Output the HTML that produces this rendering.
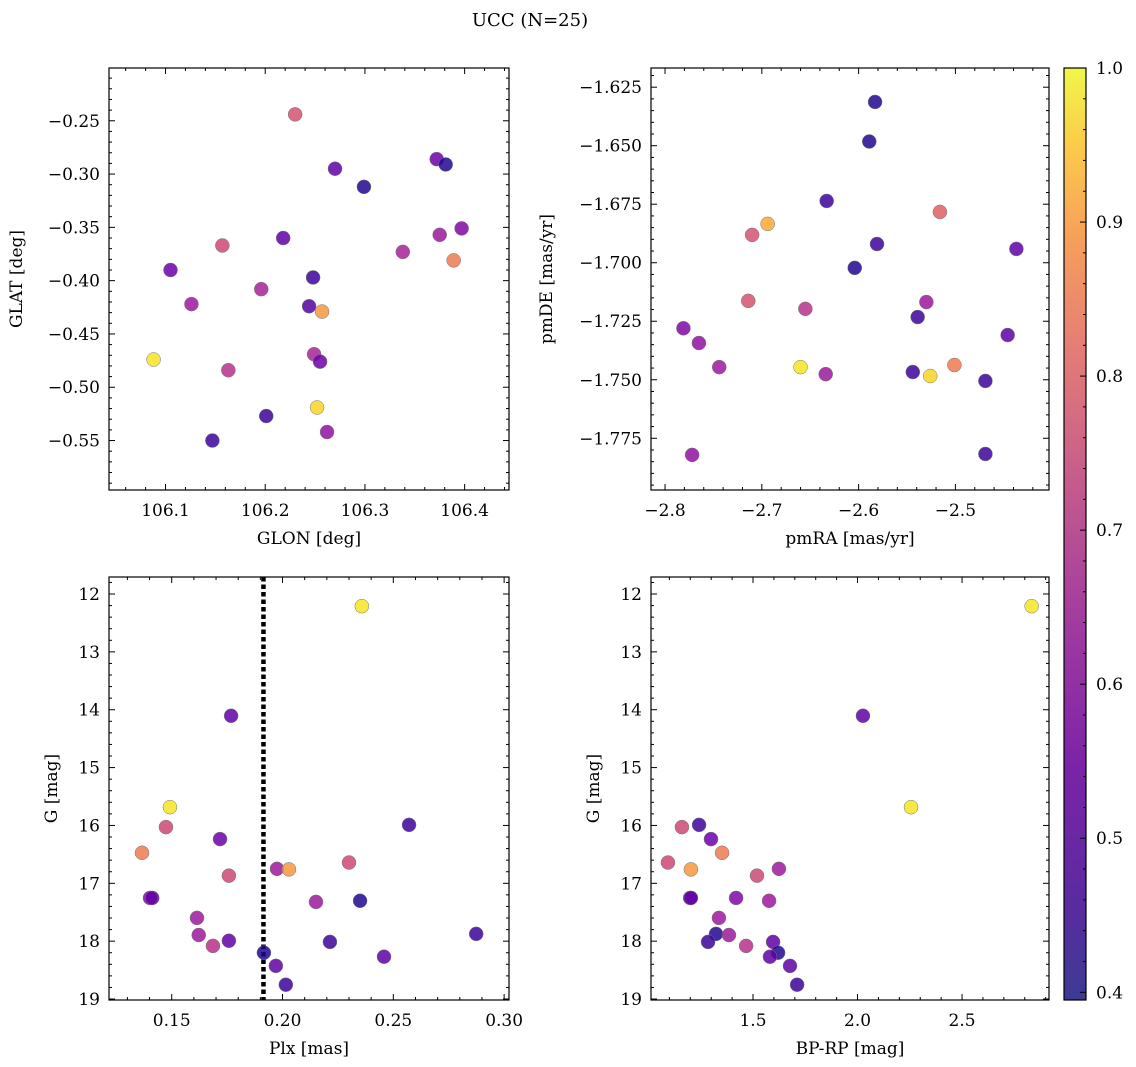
<!DOCTYPE html>
<html><head><meta charset="utf-8"><style>
html,body{margin:0;padding:0;background:#fff;}
svg{display:block;font-family:"DejaVu Serif","Liberation Serif",serif;}
</style></head><body>
<svg id="fig" width="1136" height="1067" viewBox="0 0 1136 1067" xmlns="http://www.w3.org/2000/svg">
<defs>
<linearGradient id="plasma" x1="0" y1="1" x2="0" y2="0">
<stop offset="0" stop-color="#3c3b94"/><stop offset="0.1" stop-color="#5a2ba0"/><stop offset="0.25" stop-color="#7b23a8"/><stop offset="0.4" stop-color="#a03aa0"/><stop offset="0.55" stop-color="#c45a8e"/><stop offset="0.7" stop-color="#e57d76"/><stop offset="0.82" stop-color="#f7a05a"/><stop offset="0.92" stop-color="#fbcd4a"/><stop offset="1" stop-color="#f0f749"/>
</linearGradient>
</defs>
<text x="530" y="26" font-size="18" text-anchor="middle">UCC (N=25)</text>
</svg>
<script>
// Panel 1: GLON vs GLAT
const glon = [106.230,106.372,106.381,106.270,106.299,106.375,106.397,106.157,106.218,106.338,106.389,106.105,106.248,106.196,106.126,106.244,106.257,106.088,106.249,106.255,106.163,106.252,106.201,106.262,106.147];
const glat = [-0.244,-0.286,-0.291,-0.295,-0.312,-0.357,-0.351,-0.367,-0.360,-0.373,-0.381,-0.390,-0.397,-0.408,-0.422,-0.424,-0.429,-0.474,-0.469,-0.476,-0.484,-0.519,-0.527,-0.542,-0.550];
const prob1 = [0.72,0.52,0.42,0.50,0.42,0.60,0.55,0.70,0.50,0.62,0.80,0.52,0.45,0.62,0.60,0.48,0.85,0.97,0.62,0.52,0.65,0.95,0.45,0.58,0.45];
// Panel 2: pmRA vs pmDE
const pmra = [-2.583,-2.589,-2.633,-2.581,-2.604,-2.694,-2.710,-2.516,-2.437,-2.714,-2.655,-2.530,-2.539,-2.781,-2.765,-2.744,-2.660,-2.634,-2.544,-2.526,-2.501,-2.469,-2.446,-2.469,-2.772];
const pmde = [-1.6313,-1.6482,-1.6736,-1.6920,-1.7022,-1.6834,-1.6881,-1.6783,-1.6941,-1.7163,-1.7197,-1.7168,-1.7232,-1.7280,-1.7343,-1.7446,-1.7446,-1.7476,-1.7467,-1.7484,-1.7437,-1.7505,-1.7309,-1.7817,-1.7821];
const prob2 = [0.42,0.42,0.45,0.45,0.42,0.88,0.72,0.75,0.50,0.72,0.65,0.60,0.45,0.55,0.58,0.60,0.97,0.60,0.45,0.95,0.80,0.45,0.50,0.45,0.58];
// Panel 3: Plx vs G
const plx = [0.2358,0.1768,0.1492,0.1474,0.1366,0.1718,0.2571,0.1758,0.1975,0.2029,0.2300,0.1402,0.1412,0.2151,0.2350,0.1614,0.1622,0.1686,0.1758,0.2214,0.2874,0.1916,0.2458,0.1970,0.2015];
const gmag3 = [12.21,14.105,15.684,16.029,16.473,16.236,15.990,16.868,16.750,16.760,16.641,17.253,17.253,17.322,17.302,17.598,17.894,18.082,17.993,18.013,17.874,18.200,18.269,18.427,18.753];
const prob3 = [0.97,0.50,0.97,0.70,0.80,0.52,0.45,0.70,0.60,0.85,0.70,0.55,0.50,0.60,0.42,0.60,0.60,0.65,0.50,0.45,0.45,0.42,0.50,0.50,0.45];
const plxLine = 0.1914;
// Panel 4: BP-RP vs G
const bprp = [2.833,2.026,2.256,1.160,1.242,1.299,1.352,1.093,1.203,1.624,1.519,1.199,1.203,1.419,1.577,1.337,1.323,1.385,1.285,1.596,1.467,1.620,1.581,1.677,1.711];
const gmag4 = [12.21,14.105,15.684,16.029,15.990,16.236,16.473,16.641,16.760,16.750,16.868,17.253,17.253,17.253,17.302,17.598,17.874,17.894,18.013,18.013,18.082,18.200,18.269,18.427,18.753];
const prob4 = [0.97,0.50,0.97,0.70,0.45,0.52,0.80,0.70,0.85,0.60,0.70,0.55,0.50,0.55,0.60,0.60,0.42,0.60,0.45,0.50,0.65,0.42,0.50,0.50,0.45];
// Colorbar ticks
const cbTicks = [0.4,0.5,0.6,0.7,0.8,0.9,1.0];

const NS = "http://www.w3.org/2000/svg";
const svg = document.getElementById('fig');
function mk(tag, attrs, parent){ const e=document.createElementNS(NS,tag); for(const k in attrs) e.setAttribute(k,attrs[k]); (parent||svg).appendChild(e); return e; }

const stops = [[0,[13,8,135]],[0.1,[65,4,157]],[0.2,[106,0,168]],[0.3,[143,13,164]],[0.4,[177,42,144]],[0.5,[204,71,120]],[0.6,[225,100,98]],[0.7,[242,132,75]],[0.8,[252,166,54]],[0.9,[252,206,37]],[1,[240,249,33]]];
const VMIN=0.395, VMAX=1.0;
function plasma(v){
  let t=(v-VMIN)/(VMAX-VMIN); t=Math.max(0,Math.min(1,t));
  for(let i=1;i<stops.length;i++){ if(t<=stops[i][0]){ const a=stops[i-1],b=stops[i]; const f=(t-a[0])/(b[0]-a[0]); const c=a[1].map((x,j)=>Math.round(x+(b[1][j]-x)*f)); return `rgb(${c[0]},${c[1]},${c[2]})`; } }
  return 'rgb(240,249,33)';
}
function fmt(v,d){ const s=Math.abs(v).toFixed(d); return (v<-1e-9?'\u2212':'')+s; }

function panel(o){
  const g=mk('g',{});  
  const sx=v=>o.x0+(v-o.xmin)/(o.xmax-o.xmin)*(o.x1-o.x0);
  const sy=v=> o.yinv ? o.y0+(v-o.ymin)/(o.ymax-o.ymin)*(o.y1-o.y0) : o.y1-(v-o.ymin)/(o.ymax-o.ymin)*(o.y1-o.y0);
  const tg=mk('g',{stroke:'#000','stroke-width':1},g);
  const eps=1e-9;
  let start=Math.ceil(o.xmin/o.xminor-eps);
  for(let k=start;k*o.xminor<=o.xmax+eps;k++){
    const v=k*o.xminor; const x=sx(v); const major=Math.abs(v/o.xmajor-Math.round(v/o.xmajor))<1e-6; const L=major?6:3;
    mk('line',{x1:x,y1:o.y1,x2:x,y2:o.y1-L},tg); mk('line',{x1:x,y1:o.y0,x2:x,y2:o.y0+L},tg);
    if(major){ const t=mk('text',{x:x,y:o.y1+26,'font-size':17,'text-anchor':'middle',stroke:'none',fill:'#000'},g); t.textContent=fmt(v,o.xd);   }
  }
  const lo=Math.min(o.ymin,o.ymax), hi=Math.max(o.ymin,o.ymax);
  start=Math.ceil(lo/o.yminor-eps);
  for(let k=start;k*o.yminor<=hi+eps;k++){
    const v=k*o.yminor; const y=sy(v); const major=Math.abs(v/o.ymajor-Math.round(v/o.ymajor))<1e-6; const L=major?6:3;
    mk('line',{x1:o.x0,y1:y,x2:o.x0+L,y2:y},tg); mk('line',{x1:o.x1,y1:y,x2:o.x1-L,y2:y},tg);
    if(major){ const t=mk('text',{x:o.x0-9,y:y+6,'font-size':17,'text-anchor':'end',stroke:'none',fill:'#000'},g); t.textContent=fmt(v,o.yd);   }
  }
  if(o.vline!==undefined){ const l=mk('line',{x1:sx(o.vline),x2:sx(o.vline),y1:o.y0,y2:o.y1,stroke:'#000','stroke-width':4.5,'stroke-dasharray':'4.5 3'},g);   }
  for(let i=0;i<o.xs.length;i++){
    const c=mk('circle',{cx:sx(o.xs[i]),cy:sy(o.ys[i]),r:7,fill:plasma(o.cs[i]),'fill-opacity':0.85,stroke:'#777','stroke-width':0.5},g);
    
    
  }
  const fr=mk('rect',{x:o.x0,y:o.y0,width:o.x1-o.x0,height:o.y1-o.y0,fill:'none',stroke:'#000','stroke-width':1.2},g);
   
  const xt=mk('text',{x:(o.x0+o.x1)/2,y:o.y1+54,'font-size':17,'text-anchor':'middle'},g); xt.textContent=o.xlabel;
   
  const yt=mk('text',{x:o.ylx,y:(o.y0+o.y1)/2,'font-size':17,'text-anchor':'middle',transform:`rotate(-90 ${o.ylx} ${(o.y0+o.y1)/2})`},g); yt.textContent=o.ylabel;
   
}

panel({name:'glon-glat-panel',x0:109,x1:509,y0:68,y1:490,xmin:106.0433,xmax:106.4445,ymin:-0.5964,ymax:-0.2005,xmajor:0.1,xminor:0.02,ymajor:0.05,yminor:0.01,xd:1,yd:2,xs:glon,ys:glat,cs:prob1,xlabel:'GLON [deg]',ylabel:'GLAT [deg]',ylx:22});
panel({name:'pm-panel',x0:651,x1:1049,y0:68,y1:490,xmin:-2.8145,xmax:-2.4033,ymin:-1.7971,ymax:-1.6168,xmajor:0.1,xminor:0.02,ymajor:0.025,yminor:0.005,xd:1,yd:3,xs:pmra,ys:pmde,cs:prob2,xlabel:'pmRA [mas/yr]',ylabel:'pmDE [mas/yr]',ylx:552});
panel({name:'plx-g-panel',x0:109,x1:509,y0:577,y1:1000,xmin:0.1217,xmax:0.3022,ymin:11.706,ymax:19.017,yinv:true,xmajor:0.05,xminor:0.01,ymajor:1,yminor:0.2,xd:2,yd:0,xs:plx,ys:gmag3,cs:prob3,vline:plxLine,xlabel:'Plx [mas]',ylabel:'G [mag]',ylx:57});
panel({name:'cmd-panel',x0:651,x1:1049,y0:577,y1:1000,xmin:1.012,xmax:2.916,ymin:11.706,ymax:19.017,yinv:true,xmajor:0.5,xminor:0.1,ymajor:1,yminor:0.2,xd:1,yd:0,xs:bprp,ys:gmag4,cs:prob4,xlabel:'BP-RP [mag]',ylabel:'G [mag]',ylx:599});

const cb=mk('g',{});  
const cbX0=1064,cbX1=1086,cbY0=68,cbY1=1000;
mk('rect',{x:cbX0,y:cbY0,width:cbX1-cbX0,height:cbY1-cbY0,fill:'url(#plasma)'},cb);
const cy=v=>cbY1-(v-VMIN)/(VMAX-VMIN)*(cbY1-cbY0);
for(let k=Math.ceil(VMIN/0.02-1e-9);k*0.02<=VMAX+1e-9;k++){
  const v=k*0.02; const major=Math.abs(v*10-Math.round(v*10))<1e-6;
  mk('line',{x1:cbX1,x2:cbX1-(major?6:3),y1:cy(v),y2:cy(v),stroke:'#000'},cb);
}
cbTicks.forEach(v=>{ const t=mk('text',{x:cbX1+10,y:cy(v)+6,'font-size':17},cb); t.textContent=v.toFixed(1);   });
mk('rect',{x:cbX0,y:cbY0,width:cbX1-cbX0,height:cbY1-cbY0,fill:'none',stroke:'#000','stroke-width':1.2},cb);
</script>
</body></html>
